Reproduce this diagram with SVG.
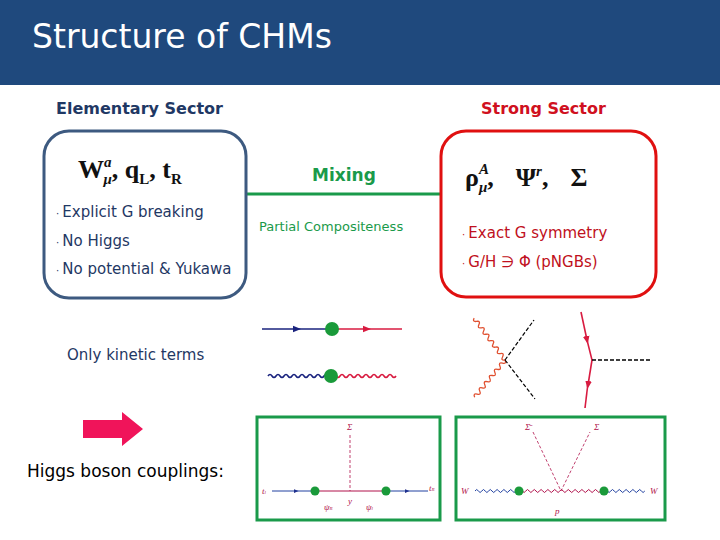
<svg xmlns="http://www.w3.org/2000/svg" width="720" height="540" viewBox="0 0 720 540">
<style>
.t{font-family:"DejaVu Sans","Liberation Sans",sans-serif}
.m{font-family:"Liberation Serif",serif;font-weight:bold;font-size:26px;fill:#111}
.s{font-family:"Liberation Serif",serif;font-style:italic;font-size:9px;fill:#b0104a}
.bl{stroke:#1a237e;fill:none;stroke-width:1.6}
.rd{stroke:#d81b40;fill:none;stroke-width:1.6}
.dot{fill:#1a9a3a}
.gb{fill:none;stroke:#1a9a4a;stroke-width:3}
.bu{font-size:10px}
</style>
<defs>
<marker id="ab" viewBox="0 0 6 6" refX="3" refY="3" markerWidth="5" markerHeight="5" orient="auto"><path d="M0,0.5L6,3L0,5.5z" fill="#1a237e"/></marker>
<marker id="ar" viewBox="0 0 6 6" refX="3" refY="3" markerWidth="5" markerHeight="5" orient="auto"><path d="M0,0.5L6,3L0,5.5z" fill="#d81b40"/></marker>
</defs>
<rect x="0" y="0" width="720" height="85" fill="#1f497d"/>
<text x="32" y="48" class="t" font-size="33" fill="#fff">Structure of CHMs</text>
<text x="56" y="114" class="t" font-size="16" font-weight="bold" fill="#1f3864">Elementary Sector</text>
<text x="481" y="114" class="t" font-size="16" font-weight="bold" fill="#d01020">Strong Sector</text>
<g id="connectors">
<line x1="246" y1="194" x2="441" y2="194" stroke="#1a9a4a" stroke-width="3"/>
</g>
<text x="312" y="181" class="t" font-size="17" font-weight="bold" fill="#1a9a4a">Mixing</text>
<text x="259" y="231" class="t" font-size="13" fill="#1a9a4a">Partial Compositeness</text>
<g id="elementary">
<rect x="44" y="131" width="202" height="167" rx="25" fill="#fff" stroke="#3d5a80" stroke-width="3"/>
<text x="78" y="178" class="m">W<tspan font-size="15" dy="-11" font-style="italic">a</tspan><tspan font-size="15" dy="17" dx="-8" font-style="italic">μ</tspan><tspan dy="-6">, q</tspan><tspan font-size="15" dy="6">L</tspan><tspan dy="-6">, t</tspan><tspan font-size="15" dy="6">R</tspan></text>
<g class="t" font-size="15" fill="#1f3864">
<text x="56" y="217"><tspan class="bu">·  </tspan>Explicit G breaking</text>
<text x="56" y="246"><tspan class="bu">·  </tspan>No Higgs</text>
<text x="56" y="274"><tspan class="bu">·  </tspan>No potential &amp; Yukawa</text>
</g>
</g>
<g id="strong">
<rect x="441" y="131" width="215" height="166" rx="25" fill="#fff" stroke="#e01010" stroke-width="3"/>
<text x="465" y="186" class="m">ρ<tspan font-size="15" dy="-12" font-style="italic">A</tspan><tspan font-size="15" dy="18" dx="-10" font-style="italic">μ</tspan><tspan dy="-6">,</tspan><tspan dx="22">Ψ</tspan><tspan font-size="15" dy="-10" font-style="italic">r</tspan><tspan dy="10">,</tspan><tspan dx="22">Σ</tspan></text>
<g class="t" font-size="15" fill="#c01020">
<text x="462" y="238"><tspan class="bu">·  </tspan>Exact G symmetry</text>
<text x="462" y="267"><tspan class="bu">·  </tspan>G/H ∋ Φ (pNGBs)</text>
</g>
</g>
<text x="67" y="360" class="t" font-size="15" fill="#1f3864">Only kinetic terms</text>
<text x="27" y="477" class="t" font-size="17" fill="#000">Higgs boson couplings:</text>
<path d="M83,420H122V412L143,429L122,446V438H83Z" fill="#f0145a"/>
<g id="mix-fermion">
<path d="M262,329H297" class="bl" marker-end="url(#ab)"/><path d="M295,329H332" class="bl"/>
<path d="M332,329H367" class="rd" marker-end="url(#ar)"/><path d="M365,329H402" class="rd"/>
<circle cx="332" cy="329" r="7" class="dot"/>
</g>
<g id="mix-boson">
<path d="M268,376q2,-3 4,0t4,0t4,0t4,0t4,0t4,0t4,0t4,0t4,0t4,0t4,0t4,0t4,0t4,0t4,0t4,0" class="bl" stroke-width="1.2"/>
<path d="M332,376q2,-3 4,0t4,0t4,0t4,0t4,0t4,0t4,0t4,0t4,0t4,0t4,0t4,0t4,0t4,0t4,0t4,0" class="rd" stroke-width="1.2"/>
<circle cx="331" cy="376" r="7" class="dot"/>
</g>
<g id="quartic">
<path transform="translate(505,360) rotate(-126.4)" d="M0,0q2,-4 4,0t4,0t4,0t4,0t4,0t4,0t4,0t4,0t4,0t4,0t4,0t4,0t4,0" stroke="#e05030" fill="none" stroke-width="1.3"/>
<path transform="translate(505,360) rotate(129.2)" d="M0,0q2,-4 4,0t4,0t4,0t4,0t4,0t4,0t4,0t4,0t4,0t4,0t4,0t4,0" stroke="#e05030" fill="none" stroke-width="1.3"/>
<path d="M505,360L534,320M505,360L535,399" stroke="#000" stroke-dasharray="4,2" stroke-width="1.2"/>
</g>
<g id="yukawa">
<path d="M581,312L587,340" class="rd" marker-end="url(#ar)"/><path d="M586,336L592,360" class="rd"/><path d="M592,360L588,385" class="rd" marker-end="url(#ar)"/><path d="M588,383L585,408" class="rd"/>
<path d="M592,360H650" stroke="#000" stroke-dasharray="4,2" stroke-width="1.3"/>
</g>
<g id="diag1">
<rect x="257" y="417" width="183" height="103" class="gb"/>
<path d="M272,491H296" stroke="#2040a0" marker-end="url(#ab)"/><path d="M294,491H315" stroke="#2040a0"/>
<path d="M315,491H386" stroke="#b0104a"/>
<path d="M386,491H407" stroke="#2040a0" marker-end="url(#ab)"/><path d="M405,491H428" stroke="#2040a0"/>
<path d="M350,435V491" stroke="#b0104a" stroke-dasharray="3,2" stroke-width="0.8"/>
<circle cx="315" cy="491" r="4.5" class="dot"/><circle cx="386" cy="491" r="4.5" class="dot"/>
<text x="347" y="430" class="s">Σ</text><text x="262" y="494" class="s" fill="#2040a0">t<tspan font-size="5">l</tspan></text><text x="429" y="491" class="s" fill="#2040a0">t<tspan font-size="5">R</tspan></text>
<text x="324" y="510" class="s">ψ<tspan font-size="5">R</tspan></text><text x="348" y="504" class="s">y</text><text x="366" y="510" class="s">ψ<tspan font-size="5">l</tspan></text>
</g>
<g id="diag2">
<rect x="456" y="417" width="209" height="103" class="gb"/>
<path d="M475,491q1.7,-3 3.4,0t3.4,0t3.4,0t3.4,0t3.4,0t3.4,0t3.4,0t3.4,0t3.4,0t3.4,0t3.4,0t3.4,0t3.4,0" stroke="#2040a0" fill="none"/>
<path d="M519,491q1.7,-3 3.4,0t3.4,0t3.4,0t3.4,0t3.4,0t3.4,0t3.4,0t3.4,0t3.4,0t3.4,0t3.4,0t3.4,0t3.4,0t3.4,0t3.4,0t3.4,0t3.4,0t3.4,0t3.4,0t3.4,0t3.4,0t3.4,0t3.4,0t3.4,0t3.4,0" stroke="#b0104a" fill="none"/>
<path d="M604,491q1.7,-3 3.4,0t3.4,0t3.4,0t3.4,0t3.4,0t3.4,0t3.4,0t3.4,0t3.4,0t3.4,0t3.4,0t3.4,0" stroke="#2040a0" fill="none"/>
<path d="M533,432L561,491L590,432" stroke="#b0104a" fill="none" stroke-dasharray="3,2" stroke-width="0.8"/>
<circle cx="519" cy="491" r="4.5" class="dot"/><circle cx="604" cy="491" r="4.5" class="dot"/>
<text x="525" y="430" class="s">Σ̄</text><text x="594" y="430" class="s">Σ</text><text x="555" y="514" class="s">p</text>
<text x="461" y="494" class="s" fill="#2040a0" font-size="11">W</text><text x="650" y="494" class="s" fill="#2040a0" font-size="11">W</text>
</g>
</svg>
